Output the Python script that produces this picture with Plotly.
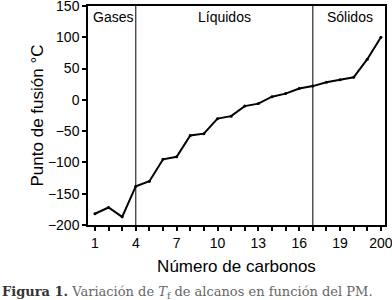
import plotly.graph_objects as go

carbons = list(range(1, 23))
melting_c = [-182, -172, -187, -138, -130, -95, -91, -57, -54, -30, -26, -10,
             -6, 5, 10, 18, 22, 28, 32, 36, 65, 100]
tick_vals = list(range(1, 23))
tick_text = ["1", "", "", "4", "", "", "7", "", "", "10", "", "", "13", "", "",
             "16", "", "", "19", "", "", "200"]
y_ticks = [-200, -150, -100, -50, 0, 50, 100, 150]
phase_bounds = [4, 17]
phase_labels = ["Gases", "Líquidos", "Sólidos"]
phase_label_x = [2.3, 10.5, 19.7]

PL, PR, PT, PB = 88, 385, 6, 225
W, H = 392, 300
pw, ph = PR - PL, PB - PT

fig = go.Figure()
fig.add_trace(go.Scatter(x=carbons, y=melting_c, mode="lines+markers",
                         line=dict(color="black", width=2),
                         marker=dict(color="black", size=3),
                         showlegend=False, cliponaxis=False))

for b in phase_bounds:
    fig.add_shape(type="line", x0=b, x1=b, y0=0, y1=1, xref="x", yref="paper",
                  line=dict(color="black", width=1))

for lab, xx in zip(phase_labels, phase_label_x):
    fig.add_annotation(x=xx, y=(PB - 17) / ph, xref="x", yref="paper",
                       text=lab, showarrow=False, yanchor="middle",
                       font=dict(family="Liberation Sans, Arial", size=14, color="black"))

fig.add_annotation(x=(0 - PL) / pw, y=(PB - 292) / ph, xref="paper", yref="paper",
                   showarrow=False, xanchor="left", yanchor="middle",
                   text="<b><span style='color:#333333'>Figura 1.</span></b> "
                        "Variación de <i>T</i><sub>f</sub> de alcanos en función del PM.",
                   font=dict(family="DejaVu Serif, serif", size=13, color="#666666"))

fig.update_layout(
    width=W, height=H,
    margin=dict(l=PL, r=W - PR, t=PT, b=H - PB, autoexpand=False),
    paper_bgcolor="white", plot_bgcolor="white",
    font=dict(family="Liberation Sans, Arial", size=14, color="black"),
    xaxis=dict(range=[0.49, 22.3], tickmode="array", tickvals=tick_vals,
               ticktext=tick_text, ticks="outside", ticklen=4, tickwidth=1.5,
               tickcolor="black", showline=True, linecolor="black", linewidth=1.5,
               mirror=True, showgrid=False, zeroline=False, automargin=False,
               ticklabeloverflow="allow",
               title=dict(text="Número de carbonos", standoff=11),
               tickfont=dict(size=14)),
    yaxis=dict(range=[-200, 150], tickmode="array", tickvals=y_ticks,
               ticks="outside", ticklen=4, tickwidth=1.5, tickcolor="black",
               showline=True, linecolor="black", linewidth=1.5, mirror=True,
               showgrid=False, zeroline=False, automargin=False,
               ticklabeloverflow="allow",
               title=dict(text="Punto de fusión °C", standoff=0),
               tickfont=dict(size=14)),
)

fig.write_html("out.html", config={"displayModeBar": False},
               post_script="document.body.style.margin='0';")
